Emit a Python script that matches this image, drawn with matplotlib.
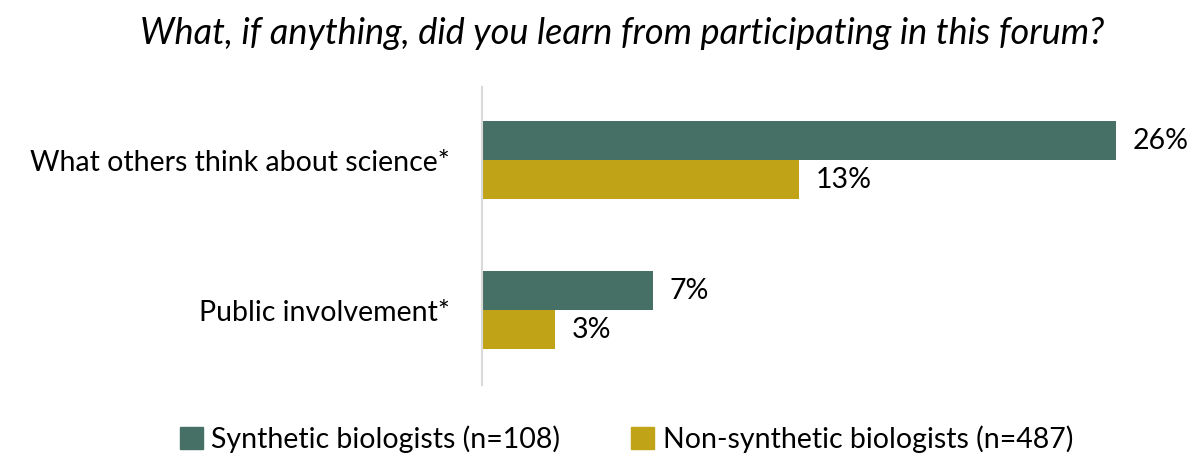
import matplotlib.pyplot as plt
from matplotlib.patches import Patch

categories = ["What others think about science*", "Public involvement*"]
synthetic = [26, 7]
non_synthetic = [13, 3]
series_names = ["Synthetic biologists (n=108)", "Non-synthetic biologists (n=487)"]
colors = ["#467066", "#C1A318"]
title = "What, if anything, did you learn from participating in this forum?"

plt.rcParams['font.family'] = ['Lato', 'DejaVu Sans']

fig = plt.figure(figsize=(11.91, 4.54), dpi=100)
W, H = 1191, 454
ax = fig.add_axes([482 / W, 1 - 385 / H, 707 / W, 298 / H])

fs = 20.5
h = 0.26
ys = list(range(len(categories)))
ax.barh([y - h / 2 for y in ys], synthetic, height=h, color=colors[0])
ax.barh([y + h / 2 for y in ys], non_synthetic, height=h, color=colors[1])
for y, v in zip(ys, synthetic):
    ax.text(v + 0.7, y - h / 2, f"{v}%", va='center', ha='left', fontsize=fs)
for y, v in zip(ys, non_synthetic):
    ax.text(v + 0.7, y + h / 2, f"{v}%", va='center', ha='left', fontsize=fs)

ax.set_xlim(0, 29)
ax.set_ylim(1.5, -0.49)
ax.set_yticks(ys)
ax.set_yticklabels(categories, fontsize=fs)
ax.tick_params(axis='y', length=0, pad=23)
ax.set_xticks([])
for s in ['top', 'right', 'bottom']:
    ax.spines[s].set_visible(False)
ax.spines['left'].set_color('#d9d9d9')
ax.spines['left'].set_linewidth(1.5)

fig.text(0.522, 1 - 33 / H, title, ha='center', va='center', fontsize=26, style='italic')

handles = [Patch(color=c) for c in colors]
fig.legend(handles, series_names, loc='center', bbox_to_anchor=(0.526, 1 - 439 / H), ncol=2,
           frameon=False, fontsize=fs, handlelength=0.8, handleheight=0.8, handletextpad=0.3,
           columnspacing=2.5)

fig.savefig("out.png", dpi=100)
